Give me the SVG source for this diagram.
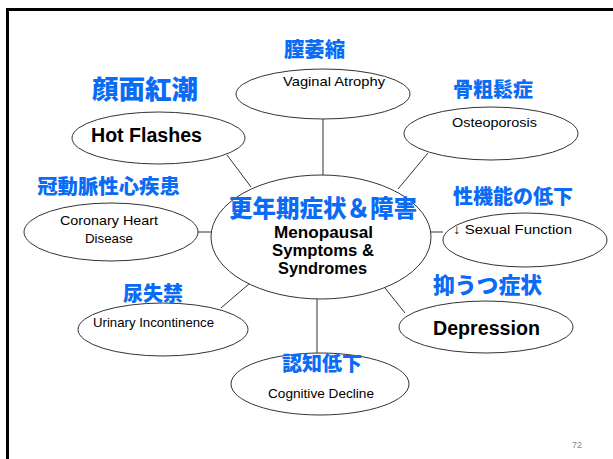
<svg xmlns="http://www.w3.org/2000/svg" width="613" height="459" viewBox="0 0 613 459">
<style>
.bg{fill:#fff}
.frame{fill:none;stroke:#000;stroke-width:3}
.node ellipse{fill:#fff;stroke:#333;stroke-width:1}
.conn line{stroke:#333;stroke-width:1}
.jp{font-family:"Noto Sans CJK JP","Noto Sans CJK SC",sans-serif;font-weight:900;fill:#0A6CF5;text-anchor:middle}
.en{font-family:"Liberation Sans","Noto Sans",sans-serif;fill:#000;text-anchor:middle}
.b{font-weight:bold}
.pg{font-family:"Liberation Sans",sans-serif;font-size:9px;fill:#888;text-anchor:middle}
</style>
<rect class="bg" x="0" y="0" width="613" height="459"/>
<rect class="frame" x="7.5" y="9.5" width="620" height="470"/>
<g id="connectors" class="conn">
<line x1="323" y1="119" x2="323" y2="175"/>
<line x1="227" y1="155" x2="251" y2="187"/>
<line x1="428" y1="153" x2="398" y2="189"/>
<line x1="198" y1="232" x2="212" y2="232"/>
<line x1="431" y1="232" x2="443" y2="232"/>
<line x1="221" y1="308" x2="250" y2="283"/>
<line x1="405" y1="313" x2="385" y2="288"/>
<line x1="317" y1="299" x2="317" y2="353"/>
</g>
<g id="hot-flashes" class="node">
<ellipse cx="158.5" cy="138" rx="86.5" ry="26"/>
<text class="jp" x="145" y="99" font-size="26.5">顔面紅潮</text>
<text class="en b" x="146.5" y="142" font-size="20" textLength="111" lengthAdjust="spacingAndGlyphs">Hot Flashes</text>
</g>
<g id="vaginal-atrophy" class="node">
<ellipse cx="323" cy="94" rx="87" ry="25"/>
<text class="jp" x="314.5" y="56.5" font-size="20.3">膣萎縮</text>
<text class="en" x="334" y="86" font-size="13.5" textLength="102" lengthAdjust="spacingAndGlyphs">Vaginal Atrophy</text>
</g>
<g id="osteoporosis" class="node">
<ellipse cx="491" cy="133.5" rx="87" ry="26.5"/>
<text class="jp" x="493" y="97" font-size="20">骨粗鬆症</text>
<text class="en" x="494.5" y="127" font-size="13.5" textLength="85" lengthAdjust="spacingAndGlyphs">Osteoporosis</text>
</g>
<g id="coronary" class="node">
<ellipse cx="111" cy="232" rx="87" ry="29"/>
<text class="jp" x="108.5" y="194" font-size="20.4">冠動脈性心疾患</text>
<text class="en" x="109" y="225" font-size="13.5" textLength="98" lengthAdjust="spacingAndGlyphs">Coronary Heart</text>
<text class="en" x="109" y="243" font-size="13.5" textLength="48" lengthAdjust="spacingAndGlyphs">Disease</text>
</g>
<g id="center" class="node">
<ellipse cx="321" cy="237" rx="110" ry="62"/>
<text class="jp" x="323" y="216.5" font-size="23.5">更年期症状＆障害</text>
<text class="en b" x="323.5" y="238" font-size="16" textLength="99" lengthAdjust="spacingAndGlyphs">Menopausal</text>
<text class="en b" x="323" y="256" font-size="16" textLength="102" lengthAdjust="spacingAndGlyphs">Symptoms &amp;</text>
<text class="en b" x="322.5" y="274" font-size="16" textLength="89" lengthAdjust="spacingAndGlyphs">Syndromes</text>
</g>
<g id="sexual-function" class="node">
<ellipse cx="525" cy="240" rx="82" ry="27"/>
<text class="jp" x="513" y="204" font-size="20">性機能の低下</text>
<text class="en" x="512.5" y="234" font-size="13.5" textLength="119" lengthAdjust="spacingAndGlyphs">↓ Sexual Function</text>
</g>
<g id="urinary" class="node">
<ellipse cx="163" cy="329.5" rx="85" ry="26.5"/>
<text class="jp" x="153" y="301" font-size="20">尿失禁</text>
<text class="en" x="153.5" y="327" font-size="13.5" textLength="121" lengthAdjust="spacingAndGlyphs">Urinary Incontinence</text>
</g>
<g id="depression" class="node">
<ellipse cx="486" cy="327" rx="87" ry="26"/>
<text class="jp" x="487.5" y="293" font-size="21.8">抑うつ症状</text>
<text class="en b" x="486.5" y="335" font-size="20" textLength="107" lengthAdjust="spacingAndGlyphs">Depression</text>
</g>
<g id="cognitive" class="node">
<ellipse cx="320" cy="384" rx="89" ry="31"/>
<text class="jp" x="322" y="371" font-size="20">認知低下</text>
<text class="en" x="321" y="398" font-size="13.5" textLength="106" lengthAdjust="spacingAndGlyphs">Cognitive Decline</text>
</g>
<text class="pg" x="577" y="448">72</text>
</svg>
